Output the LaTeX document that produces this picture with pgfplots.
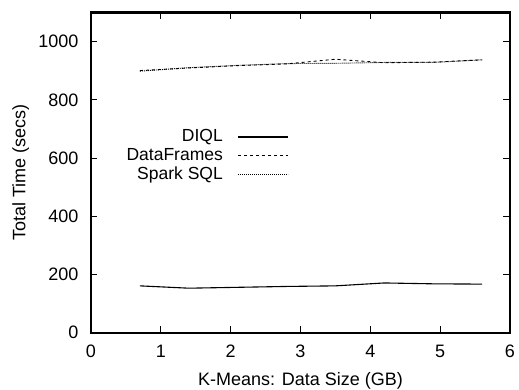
\documentclass[border=0pt]{standalone}
\usepackage{fontspec}
\setmainfont{Liberation Sans}
\usepackage{pgfplots}
\pgfplotsset{compat=1.18}
\begin{document}
\fontsize{18bp}{21bp}\selectfont
\begin{tikzpicture}
\begin{axis}[
  scale only axis, width=419bp, height=320bp,
  xmin=0, xmax=6, ymin=0, ymax=1100,
  xtick={0,1,2,3,4,5,6}, ytick={0,200,400,600,800,1000},
  tick align=inside, major tick length=6.5bp, minor tick num=0,
  axis line style={line width=2.4bp},
  every tick/.style={black, line width=1bp},
  /pgf/number format/assume math mode=true,
  /pgf/number format/1000 sep={},
  tick label style={font=\fontsize{18bp}{21bp}\selectfont},
  xticklabel style={yshift=-6.3bp},
  yticklabel style={xshift=-6.5bp},
  label style={font=\fontsize{18bp}{21bp}\selectfont},
  xlabel={K-Means: Data Size (GB)},
  ylabel={Total Time (secs)},
  xlabel style={at={(axis description cs:0.5,-0.15)}, anchor=center},
  ylabel style={at={(axis description cs:-0.168,0.5)}, anchor=center},
  legend plot pos=right,
  legend cell align=right,
  legend style={draw=none, fill=none, at={(axis description cs:0.48,0.648)}, anchor=north east,
    font=\fontsize{17.5bp}{20bp}\selectfont, row sep=0bp},
  legend image code/.code={\path (0bp,0bp); \draw[#1] (13bp,0bp) -- (63bp,0bp);},
]
\addplot[black, line width=1.1bp] coordinates {
(0.7,161) (1.4,153) (2.1,156) (2.8,159) (3.5,161) (4.2,171) (4.9,168) (5.6,167)};
\addlegendentry{DIQL}
\addplot[black, line width=0.9bp, dash pattern=on 3bp off 3bp] coordinates {
(0.7,901) (1.4,910) (2.1,918) (2.8,924) (3.5,940) (4.2,928) (4.9,930) (5.6,938)};
\addlegendentry{DataFrames}
\addplot[black, line width=0.9bp, dash pattern=on 1bp off 1bp] coordinates {
(0.7,899) (1.4,911) (2.1,919) (2.8,925) (3.5,926) (4.2,929) (4.9,929) (5.6,938)};
\addlegendentry{Spark SQL}
\end{axis}
\pgfresetboundingbox
\path[use as bounding box] (-91bp,-57.3bp) rectangle (428bp,332.7bp);
\end{tikzpicture}
\end{document}
